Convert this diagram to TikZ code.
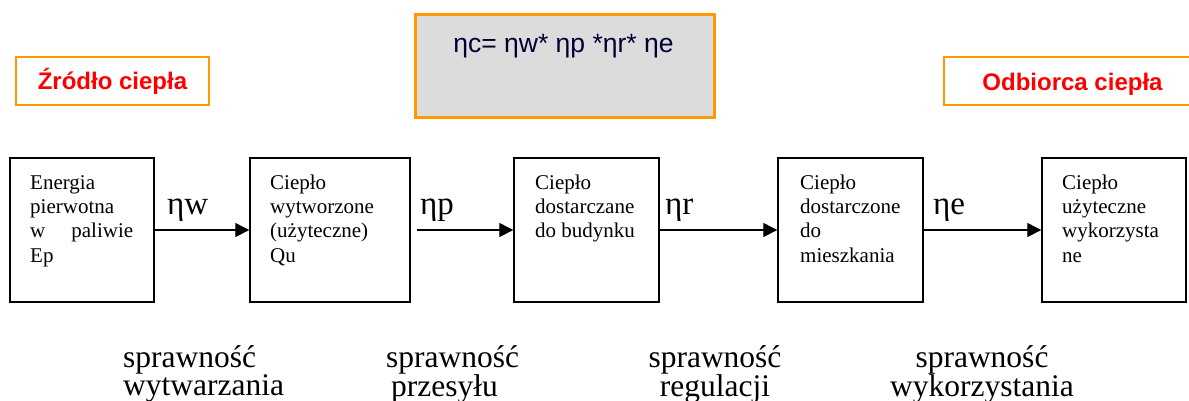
\documentclass[tikz,border=0pt]{standalone}
\usepackage{fontspec}
\setmainfont{Liberation Serif}
\newfontfamily\arialfont{Liberation Sans}
\usetikzlibrary{arrows.meta}
\definecolor{frameorange}{RGB}{255,153,0}
\definecolor{boxgray}{RGB}{220,220,220}
\definecolor{navyink}{RGB}{0,0,51}
\definecolor{labelred}{RGB}{255,0,0}
\begin{document}
\begin{tikzpicture}[x=1pt,y=-1pt,
  blk/.style={draw=black, line width=1.4pt, minimum width=#1, minimum height=144pt, inner sep=0pt},
  boxtxt/.style={anchor=north west, align=left, inner sep=0pt, font=\fontsize{21}{24.3}\selectfont},
  etalbl/.style={anchor=base west, inner sep=0pt, font=\fontsize{33}{33}\selectfont},
  botlbl/.style={anchor=north, inner sep=0pt, font=\fontsize{31.5}{28.5}\selectfont},
  flow/.style={line width=1.2pt, -{Triangle[length=14pt,width=14pt]}},
  tagbox/.style={draw=frameorange, line width=1.5pt, minimum height=48pt, inner sep=0pt,
     text=labelred, font=\arialfont\bfseries\fontsize{24}{24}\selectfont},
]
\useasboundingbox (0,0) rectangle (1189,400);
\clip (0,0) rectangle (1189,400);

% top tags
\node[tagbox, minimum width=193pt] (src) at (112.5,81) {Źródło ciepła};
\node[tagbox, minimum width=254pt] (dst) at (1071,81) {};
\node[anchor=base, inner sep=0pt, text=labelred, font=\arialfont\bfseries\fontsize{24}{24}\selectfont] (dsttxt) at (1072.5,90) {Odbiorca ciepła};

% formula box
\node[draw=frameorange, line width=3pt, fill=boxgray, minimum width=299pt, minimum height=103pt, inner sep=0pt] (fbox) at (564.5,65.5) {};
\node[anchor=base, inner sep=0pt, text=navyink, font=\arialfont\fontsize{26.5}{26.5}\selectfont] (formula) at (563.5,52) {ηc= ηw* ηp *ηr* ηe};

% main blocks
\node[blk=144pt] (b1) at (82,230) {};
\node[blk=160pt] (b2) at (330,230) {};
\node[blk=145pt] (b3) at (586.5,230) {};
\node[blk=145pt] (b4) at (850.5,230) {};
\node[blk=144pt] (b5) at (1114,230) {};

\node[boxtxt] (t1) at (30,174) {\rule{0pt}{15pt}Energia\\pierwotna\\\makebox[103pt][l]{w\hfill paliwie}\\Ep};
\node[boxtxt] (t2) at (270,174) {\rule{0pt}{15pt}Ciepło\\wytworzone\\(użyteczne)\\Qu};
\node[boxtxt] (t3) at (535,174) {\rule{0pt}{15pt}Ciepło\\dostarczane\\do budynku};
\node[boxtxt] (t4) at (800,174) {\rule{0pt}{15pt}Ciepło\\dostarczone\\do\\mieszkania};
\node[boxtxt] (t5) at (1062,174) {\rule{0pt}{15pt}Ciepło\\użyteczne\\wykorzysta\\ne};

% arrows
\draw[flow] (b1.east) -- (b2.west);
\draw[flow] ([xshift=6pt]b2.east) -- (b3.west);
\draw[flow] (b3.east) -- (b4.west);
\draw[flow] (b4.east) -- (b5.west);

\node[etalbl] (e1) at (167,214) {ηw};
\node[etalbl] (e2) at (420,214) {ηp};
\node[etalbl] (e3) at (665,214) {ηr};
\node[etalbl] (e4) at (933,214) {ηe};

% bottom labels
\node[botlbl, anchor=north west, align=left] (s1) at (123,343) {\rule{0pt}{24pt}sprawność\\wytwarzania};
\node[botlbl, anchor=north west, align=left] (s2) at (386,343) {\rule{0pt}{24pt}sprawność\\\hspace*{5pt}przesyłu};
\node[botlbl, align=center] (s3) at (715,343) {\rule{0pt}{24pt}sprawność\\regulacji};
\node[botlbl, align=center] (s4) at (982,343) {\rule{0pt}{24pt}sprawność\\wykorzystania};
\end{tikzpicture}
\end{document}
